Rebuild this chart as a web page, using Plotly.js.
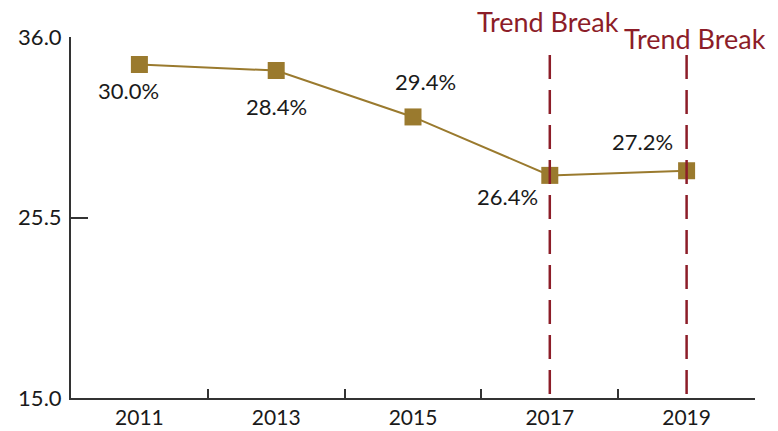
<!DOCTYPE html>
<html>
<head>
<meta charset="utf-8">
<script src="https://cdn.plot.ly/plotly-3.0.1.min.js"></script>
<style>html,body{margin:0;padding:0;background:#fff;}#chart{width:778px;height:431px;}</style>
</head>
<body>
<div id="chart"></div>
<script>
// Data
const years = ['2011', '2013', '2015', '2017', '2019'];
const values = [34.4, 34.05, 31.35, 27.95, 28.22];
const pctLabels = ['30.0%', '28.4%', '29.4%', '26.4%', '27.2%'];
const breakYears = ['2017', '2019'];
const breakLabel = 'Trend Break';
const yTickVals = [15, 25.5, 36];
const yTickText = ['15.0', '25.5', '36.0'];

// Styling (label offsets in px)
const labelShift = [[-11, -26], [0, -36], [12, 35], [-42, -21], [-44, 29]];
const breakShift = [[-2, 16], [8, -1]];
const gold = '#9A7A2E';
const red = '#8C1D28';
const FONT = 'Lato';

const trace = {
  x: years, y: values, type: 'scatter', mode: 'lines+markers',
  line: {color: gold, width: 2},
  marker: {symbol: 'square', size: 17, color: gold},
  hoverinfo: 'skip', cliponaxis: false
};

const annotations = [];
pctLabels.forEach((t, i) => annotations.push({
  x: i, y: values[i], xref: 'x', yref: 'y', text: t, showarrow: false,
  xanchor: 'center', yanchor: 'middle', xshift: labelShift[i][0], yshift: labelShift[i][1],
  font: {family: FONT, size: 22, color: '#1a1a1a'}
}));
breakYears.forEach((yr, i) => annotations.push({
  x: years.indexOf(yr), y: 1, xref: 'x', yref: 'paper', text: breakLabel, showarrow: false,
  xanchor: 'center', yanchor: 'middle', xshift: breakShift[i][0], yshift: breakShift[i][1],
  font: {family: FONT, size: 27, color: red}
}));

const shapes = breakYears.map(yr => ({
  type: 'line', xref: 'x', yref: 'paper', x0: years.indexOf(yr), x1: years.indexOf(yr), y0: 0.95, y1: 0,
  line: {color: red, width: 2.5, dash: '24px,11px'}, layer: 'above'
}));

const layout = {
  width: 778, height: 431,
  margin: {l: 71, r: 23, t: 37, b: 33},
  paper_bgcolor: '#fff', plot_bgcolor: '#fff',
  showlegend: false,
  font: {family: FONT, size: 22, color: '#1a1a1a'},
  xaxis: {
    type: 'category', range: [-0.5, 4.5], tickson: 'boundaries',
    ticks: 'inside', ticklen: 9, tickwidth: 2, tickcolor: '#333',
    showline: true, linecolor: '#333', linewidth: 2,
    showgrid: false, zeroline: false,
    tickfont: {family: FONT, size: 21, color: '#1a1a1a'}
  },
  yaxis: {
    range: [15, 36], tickvals: yTickVals, ticktext: yTickText,
    ticks: 'inside', ticklen: 17, tickwidth: 2, tickcolor: '#333',
    showline: true, linecolor: '#333', linewidth: 2,
    showgrid: false, zeroline: false, ticklabelstandoff: 3,
    tickfont: {family: FONT, size: 22, color: '#1a1a1a'}
  },
  annotations: annotations,
  shapes: shapes
};

Plotly.newPlot('chart', [trace], layout, {displayModeBar: false});
</script>
</body>
</html>
